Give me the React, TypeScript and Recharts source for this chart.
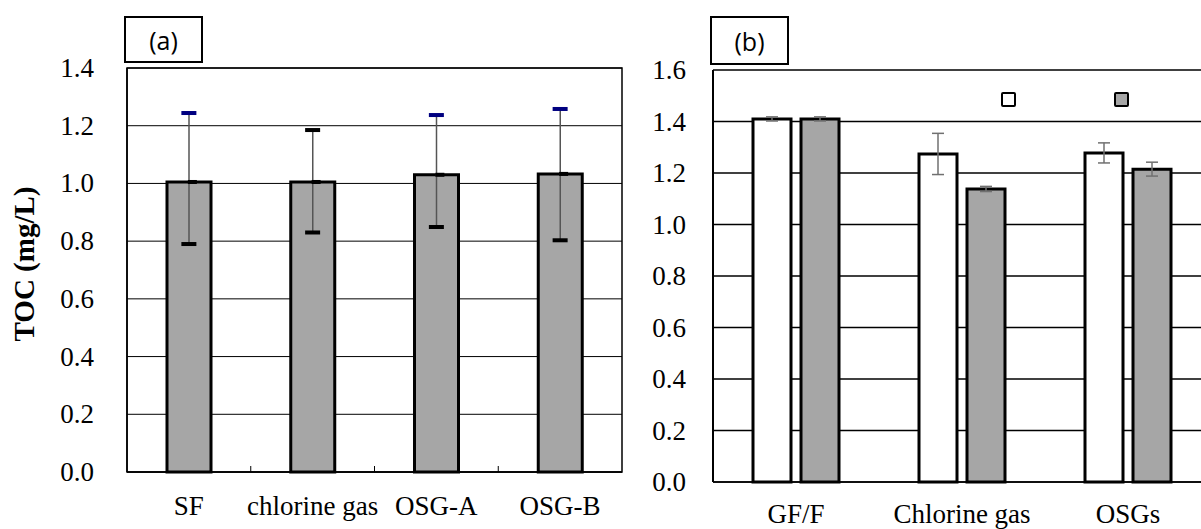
import React from "react"
import { ComposedChart, BarChart, Bar, XAxis, YAxis, CartesianGrid, ErrorBar, Scatter, ReferenceArea, Legend } from "recharts"

// panel (a): TOC by treatment
const sitesA = ["SF", "chlorine gas", "OSG-A", "OSG-B"]
const tocA = [1.005, 1.005, 1.03, 1.033]
const upperA = [1.244, 1.185, 1.237, 1.258]
const lowerA = [0.79, 0.83, 0.849, 0.803]
const ticksA = [0, 0.2, 0.4, 0.6, 0.8, 1.0, 1.2, 1.4]

// panel (b): two sets per treatment
const sitesB = ["GF/F", "Chlorine gas", "OSGs"]
const whiteB = [1.41, 1.274, 1.278]
const whiteErrB = [0.008, 0.08, 0.039]
const grayB = [1.41, 1.138, 1.215]
const grayErrB = [0.008, 0.01, 0.027]
const ticksB = [0, 0.2, 0.4, 0.6, 0.8, 1.0, 1.2, 1.4, 1.6]

// cap colours for the upper whiskers in (a)
const upperCapColors = ["#000080", "#000000", "#000080", "#000080"]

const SERIF = "Liberation Serif"
const GRAY = "#a6a6a6"

const dataA = sitesA.map((site, i) => ({
  site,
  toc: tocA[i],
  upper: upperA[i],
  lower: lowerA[i],
  err: [tocA[i] - lowerA[i], upperA[i] - tocA[i]],
}))

const dataB = sitesB.map((site, i) => ({
  site,
  white: whiteB[i],
  whiteErr: whiteErrB[i],
  gray: grayB[i],
  grayErr: grayErrB[i],
}))

// x tick with a small inward mark at the category boundary
const TickA = (props: any) => {
  const { x, y, payload, index } = props
  const half = payload?.offset ?? 0
  return (
    <g>
      {index > 0 && half > 0 && (
        <line x1={x - half} x2={x - half} y1={y} y2={y - 6} stroke="#000" strokeWidth={1} />
      )}
      <text x={x} y={y} dy={43} textAnchor="middle" fill="#000" fontSize={27} fontFamily={SERIF}>
        {payload.value}
      </text>
    </g>
  )
}

const TickB = (props: any) => {
  const { x, y, payload } = props
  return (
    <text x={x} y={y} dy={41} textAnchor="middle" fill="#000" fontSize={27} fontFamily={SERIF}>
      {payload.value}
    </text>
  )
}

const YTick = (props: any) => {
  const { x, y, payload } = props
  return (
    <text x={x} y={y} dy={9} textAnchor="end" fill="#000" fontSize={27} fontFamily={SERIF}>
      {Number(payload.value).toFixed(1)}
    </text>
  )
}

const capShape = (color: (p: any) => string) => (p: any) => (
  <rect x={p.cx - 7.5} y={p.cy - 2} width={15} height={4} fill={color(p)} />
)

const PanelTag = ({ label, left, height }: { label: string; left: number; height: number }) => (
  <div
    style={{
      position: "absolute",
      left,
      top: 16,
      width: 79,
      height,
      border: "2px solid #000",
      boxSizing: "border-box",
      background: "#fff",
      display: "flex",
      alignItems: "center",
      justifyContent: "center",
      fontFamily: "'Open Sans', sans-serif",
      fontSize: 25,
      color: "#000",
    }}
  >
    {label}
  </div>
)

export default function App() {
  return (
    <div style={{ position: "absolute", left: 0, top: 0, width: 1201, height: 529, overflow: "hidden", background: "#fff" }}>
      <div style={{ position: "absolute", left: 0, top: 0 }}>
        <ComposedChart width={640} height={529} data={dataA} margin={{ top: 68, right: 18, bottom: 17, left: 0 }}>
          <CartesianGrid vertical={false} stroke="#000" strokeWidth={1} />
          <ReferenceArea y1={0} y2={1.4} fill="none" stroke="#000" strokeWidth={1.5} ifOverflow="visible" />
          <XAxis
            dataKey="site"
            height={40}
            interval={0}
            tickSize={0}
            tickMargin={0}
            axisLine={{ stroke: "#000", strokeWidth: 1.5 }}
            tick={<TickA />}
          />
          <YAxis
            width={127}
            domain={[0, 1.4]}
            ticks={ticksA}
            tickSize={0}
            tickMargin={33}
            axisLine={{ stroke: "#000", strokeWidth: 1.5 }}
            tick={<YTick />}
            label={{
              content: (p: any) => {
                const vb = p.viewBox
                const cx = vb.x + 24
                const cy = vb.y + vb.height / 2 - 6
                return (
                  <text
                    x={cx}
                    y={cy}
                    transform={`rotate(-90 ${cx} ${cy})`}
                    textAnchor="middle"
                    dominantBaseline="central"
                    fontFamily={SERIF}
                    fontWeight="bold"
                    fontSize={29}
                    fill="#000"
                  >
                    TOC (mg/L)
                  </text>
                )
              },
            }}
          />
          <Bar dataKey="toc" barSize={44} fill={GRAY} stroke="#000" strokeWidth={3} isAnimationActive={false}>
            <ErrorBar dataKey="err" width={0} stroke="#555" strokeWidth={1.5} />
          </Bar>
          <Scatter
            dataKey="upper"
            isAnimationActive={false}
            shape={capShape((p) => upperCapColors[Math.max(0, sitesA.indexOf(p.payload?.site))])}
          />
          <Scatter dataKey="lower" isAnimationActive={false} shape={capShape(() => "#000")} />
          <Scatter
            dataKey="toc"
            isAnimationActive={false}
            shape={(p: any) => <rect x={p.cx - 1} y={p.cy - 2} width={9} height={4} fill="#000" />}
          />
        </ComposedChart>
      </div>

      <div style={{ position: "absolute", left: 620, top: 0 }}>
        <BarChart
          width={600}
          height={529}
          data={dataB}
          margin={{ top: 70, right: 9, bottom: 7, left: 0 }}
          barSize={38}
          barGap={10}
        >
          <CartesianGrid vertical={false} stroke="#000" strokeWidth={1.5} />
          <XAxis
            dataKey="site"
            height={40}
            interval={0}
            tickSize={0}
            tickMargin={0}
            axisLine={{ stroke: "#000", strokeWidth: 1.5 }}
            tick={<TickB />}
          />
          <YAxis
            width={93}
            domain={[0, 1.6]}
            ticks={ticksB}
            tickSize={0}
            tickMargin={27}
            axisLine={{ stroke: "#000", strokeWidth: 2 }}
            tick={<YTick />}
          />
          <Legend
            verticalAlign="top"
            wrapperStyle={{ top: 92, left: 381, width: 200, height: 0 }}
            content={(props: any) => (
              <div style={{ position: "relative", height: 0 }}>
                {(props.payload || []).map((e: any, i: number) => (
                  <span
                    key={i}
                    style={{
                      position: "absolute",
                      left: i * 113,
                      top: 0,
                      width: 15,
                      height: 15,
                      border: "2.5px solid #000",
                      borderRadius: 2,
                      boxSizing: "border-box",
                      background: e.payload?.fill ?? e.color,
                    }}
                  />
                ))}
              </div>
            )}
          />
          <Bar dataKey="white" name="set 1" fill="#fff" stroke="#000" strokeWidth={3} isAnimationActive={false}>
            <ErrorBar dataKey="whiteErr" width={6} stroke="#707070" strokeWidth={1.5} />
          </Bar>
          <Bar dataKey="gray" name="set 2" fill={GRAY} stroke="#000" strokeWidth={3} isAnimationActive={false}>
            <ErrorBar dataKey="grayErr" width={6} stroke="#707070" strokeWidth={1.5} />
          </Bar>
        </BarChart>
      </div>

      <PanelTag label="(a)" left={124} height={47} />
      <PanelTag label="(b)" left={710} height={49} />
    </div>
  )
}
